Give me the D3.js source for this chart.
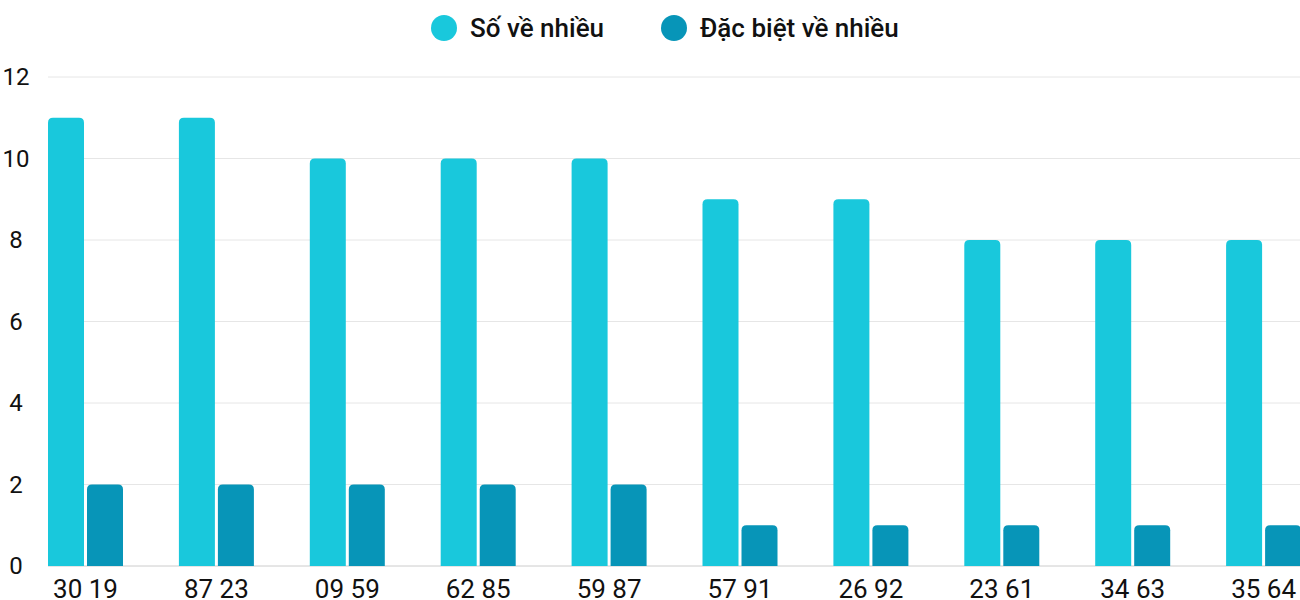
<!DOCTYPE html>
<meta charset="utf-8">
<script src="https://cdn.jsdelivr.net/npm/d3@7"></script>
<style>
  body { margin: 0; background: #fff; }
  text { font-family: Roboto, sans-serif; fill: #111; }
</style>
<body>
<div id="chart"></div>
<script>
  var categories = ["30 19", "87 23", "09 59", "62 85", "59 87", "57 91", "26 92", "23 61", "34 63", "35 64"]
  var soVeNhieu = [11, 11, 10, 10, 10, 9, 9, 8, 8, 8]
  var dacBiet = [2, 2, 2, 2, 2, 1, 1, 1, 1, 1]
  var yTicks = [0, 2, 4, 6, 8, 10, 12]
  var seriesNames = ["Số về nhiều", "Đặc biệt về nhiều"]
  var colors = ["#19c8dc", "#0795b8"]

  var W = 1300, H = 600
  var mLeft = 48, mRight = 1300, mTop = 77, mBottom = 566
  var barW = 36, gap = 3

  var svg = d3.select("#chart").append("svg").attr("width", W).attr("height", H)

  var x = d3.scaleBand().domain(categories).range([mLeft, mLeft + 130.9 * categories.length])
  var y = d3.scaleLinear().domain([0, 12]).range([mBottom, mTop])

  // grid
  svg.append("g").selectAll("line").data(yTicks).enter().append("line")
    .attr("x1", mLeft).attr("x2", mRight)
    .attr("y1", d => y(d)).attr("y2", d => y(d))
    .attr("stroke", d => d == 0 ? "#ccc" : "#e6e6e6").attr("stroke-width", 1)

  svg.append("g").selectAll("text").data(yTicks).enter().append("text")
    .attr("x", 16).attr("y", d => y(d) + 8).attr("text-anchor", "middle")
    .style("font-size", "24px").text(d => d)

  function topRounded(x0, y0, w, h, r) {
    r = Math.min(r, h)
    return "M" + x0 + "," + (y0 + h) + "V" + (y0 + r) + "Q" + x0 + "," + y0 + " " + (x0 + r) + "," + y0 +
      "H" + (x0 + w - r) + "Q" + (x0 + w) + "," + y0 + " " + (x0 + w) + "," + (y0 + r) + "V" + (y0 + h) + "Z"
  }

  var series = [soVeNhieu, dacBiet]
  series.forEach((vals, s) => {
    svg.append("g").selectAll("path").data(vals).enter().append("path")
      .attr("d", (d, i) => topRounded(x(categories[i]) + s * (barW + gap), y(d), barW, mBottom - y(d), 5))
      .attr("fill", colors[s])
  })

  svg.append("g").selectAll("text").data(categories).enter().append("text")
    .attr("x", d => x(d) + barW + gap / 2).attr("y", 598).attr("text-anchor", "middle")
    .style("font-size", "26px").text(d => d)

  // legend
  var lx = [444, 674]
  seriesNames.forEach((n, i) => {
    svg.append("circle").attr("cx", lx[i]).attr("cy", 28).attr("r", 13).attr("fill", colors[i])
    svg.append("text").attr("x", lx[i] + 26).attr("y", 37).style("font-size", "26px")
      .style("font-weight", 500).text(n)
  })
</script>
</body>
